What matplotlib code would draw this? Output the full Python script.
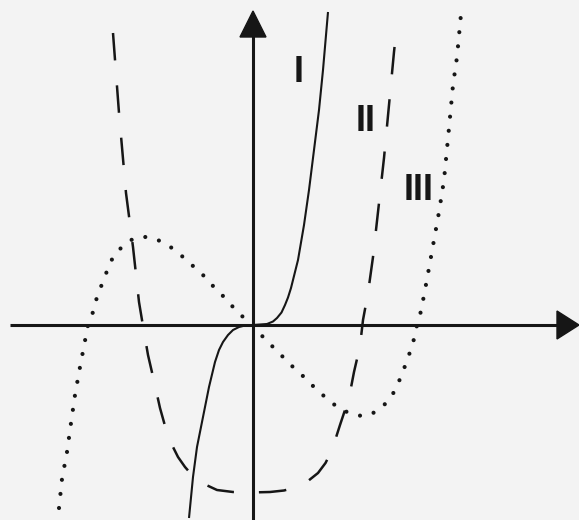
import matplotlib
matplotlib.use("Agg")
import matplotlib.pyplot as plt
from matplotlib.patches import Polygon

# ---- data (1 unit = 50 px) ----
# Curve I (solid)
x_I = [-1.28, -1.20, -1.12, -1.00, -0.88, -0.76, -0.68, -0.60, -0.50, -0.40,
       -0.28, -0.16, 0.00, 0.28, 0.40, 0.48, 0.57, 0.64, 0.70, 0.76,
       0.90, 1.02, 1.12, 1.22, 1.32, 1.40, 1.50]
y_I = [-3.86, -3.04, -2.44, -1.84, -1.24, -0.74, -0.50, -0.34, -0.20, -0.10,
       -0.04, -0.01, 0.00, 0.02, 0.07, 0.14, 0.25, 0.40, 0.55, 0.74,
       1.30, 2.00, 2.70, 3.50, 4.30, 5.10, 6.26]

# Curve II (dashed)
x_II = [-2.80, -2.68, -2.54, -2.40, -2.28, -2.20, -2.10, -1.98, -1.86, -1.72,
        -1.60, -1.50, -1.36, -1.22, -1.00, -0.72, -0.40, -0.06, 0.34, 0.62,
        0.88, 1.10, 1.30, 1.45, 1.58, 1.74, 1.92, 2.02, 2.14, 2.20,
        2.30, 2.40, 2.50, 2.62, 2.72, 2.82, 2.88]
y_II = [5.84, 4.24, 2.64, 1.56, 0.46, -0.02, -0.60, -1.12, -1.66, -2.16,
        -2.44, -2.64, -2.84, -3.00, -3.17, -3.30, -3.34, -3.35, -3.34, -3.31,
        -3.24, -3.12, -2.96, -2.76, -2.50, -2.00, -1.46, -0.94, -0.42, 0.10,
        0.64, 1.36, 2.26, 3.34, 4.40, 5.46, 6.02]

# Curve III (dotted)
x_III = [-3.88, -3.82, -3.72, -3.64, -3.56, -3.46, -3.38, -3.30, -3.20, -3.12,
         -3.02, -2.92, -2.80, -2.70, -2.62, -2.50, -2.40, -2.26, -2.12, -1.98,
         -1.86, -1.62, -1.40, -1.20, -0.98, -0.80, -0.60, -0.40, -0.20, 0.00,
         0.20, 0.40, 0.60, 0.80, 1.02, 1.22, 1.44, 1.66, 1.78, 1.88,
         2.02, 2.18, 2.32, 2.44, 2.56, 2.66, 2.74, 2.82, 2.94, 3.04,
         3.14, 3.22, 3.28, 3.36, 3.44, 3.52, 3.62, 3.72, 3.82, 3.92,
         4.00, 4.08, 4.16]
y_III = [-3.66, -3.08, -2.54, -1.96, -1.40, -0.84, -0.42, 0.00, 0.26, 0.56,
         0.82, 1.08, 1.36, 1.48, 1.56, 1.66, 1.72, 1.76, 1.76, 1.73,
         1.68, 1.54, 1.36, 1.18, 0.98, 0.78, 0.58, 0.36, 0.16, 0.00,
         -0.24, -0.44, -0.64, -0.84, -1.04, -1.24, -1.44, -1.62, -1.69, -1.74,
         -1.79, -1.82, -1.80, -1.74, -1.66, -1.56, -1.46, -1.34, -1.08, -0.82,
         -0.54, -0.28, 0.00, 0.28, 0.70, 1.14, 1.70, 2.26, 2.90, 3.94,
         4.80, 5.36, 6.22]

labels = ["I", "II", "III"]
label_x = [0.92, 2.26, 3.32]
label_y = [5.06, 4.08, 2.70]

# ---- figure ----
ink = "#161616"
bg = "#f3f3f3"
fig = plt.figure(figsize=(5.79, 5.20), dpi=100)
fig.patch.set_facecolor(bg)
ax = fig.add_axes([0, 0, 1, 1])
ax.set_facecolor(bg)
ax.set_xlim(-5.06, 6.52)
ax.set_ylim(-3.90, 6.50)
ax.axis("off")

# axes with arrows
ax.plot([-4.86, 6.15], [0, 0], color=ink, lw=2.2, solid_capstyle="butt", zorder=3)
ax.plot([0, 0], [-3.95, 5.85], color=ink, lw=2.2, solid_capstyle="butt", zorder=3)
ax.add_patch(Polygon([[6.08, 0.28], [6.08, -0.28], [6.52, 0.0]], closed=True,
                     color=ink, zorder=4))
ax.add_patch(Polygon([[-0.26, 5.76], [0.26, 5.76], [0.0, 6.28]], closed=True,
                     color=ink, zorder=4))

# curves
ax.plot(x_I, y_I, color=ink, lw=1.5, solid_capstyle="butt",
        solid_joinstyle="round", zorder=5)
ax.plot(x_II, y_II, color=ink, lw=1.8, linestyle=(0, (11.0, 10.0)),
        dash_capstyle="butt", dash_joinstyle="round", zorder=5)
ax.plot(x_III, y_III, color=ink, lw=3.0, linestyle=(0, (0.001, 3.4)),
        dash_capstyle="round", zorder=5)

for t, lx, ly in zip(labels, label_x, label_y):
    ax.text(lx, ly, t, fontsize=26, fontweight="bold", family="Liberation Sans",
            color=ink, ha="center", va="center", zorder=6)

fig.savefig("out.png", dpi=100, facecolor=fig.get_facecolor())
